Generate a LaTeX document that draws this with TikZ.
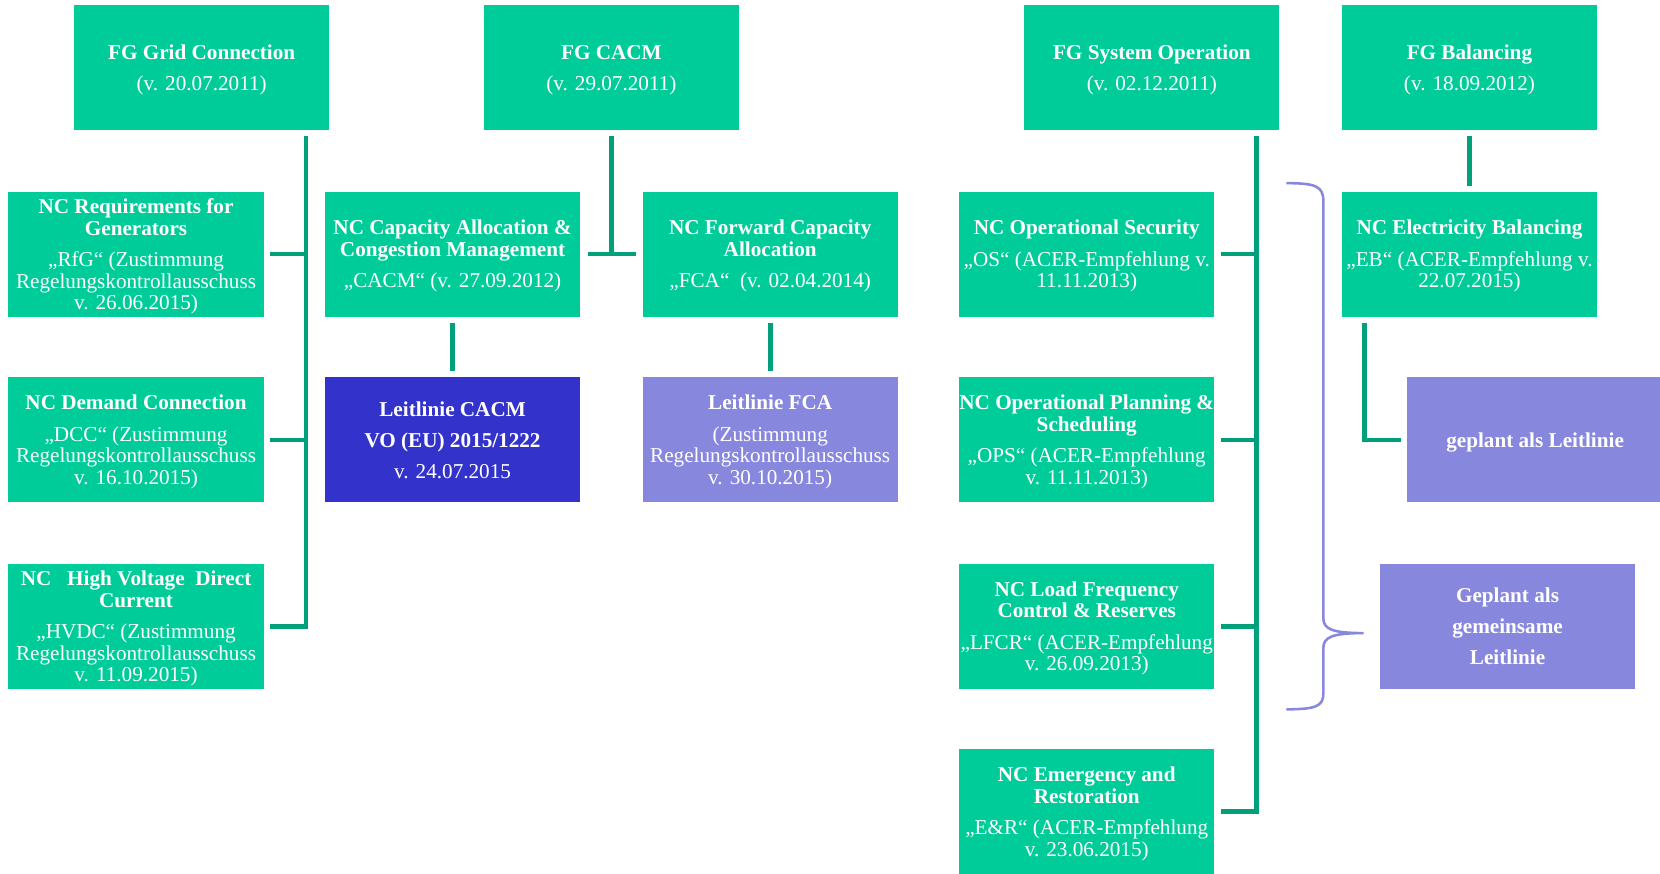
\documentclass[tikz,border=0pt]{standalone}
\usepackage{fontspec}
\setmainfont{Liberation Serif}
\definecolor{boxgreen}{HTML}{00CC99}
\definecolor{linegreen}{HTML}{00A07A}
\definecolor{darkblue}{HTML}{3333CC}
\definecolor{lilac}{HTML}{8787DE}
\tikzset{
  box/.style={fill=boxgreen, text=white, minimum width=120.5pt, minimum height=59pt,
    inner sep=0pt, text depth=0pt, align=center, font=\fontsize{10}{10.25}\selectfont},
  bluebox/.style={box, fill=darkblue},
  lilacbox/.style={box, fill=lilac},
  conn/.style={draw=linegreen, line width=2.2pt},
  bracepath/.style={draw=lilac, line width=1.2pt},
}
\begin{document}
\begin{tikzpicture}[x=0.5pt,y=-0.5pt]
\useasboundingbox (0,0) rectangle (1568,825);
% top row
\node[box] (gc) at (190.5,64) {\textbf{FG Grid Connection}\\[4.25pt](v. 20.07.2011)};
\node[box] (cacm) at (577.5,64) {\textbf{FG CACM}\\[4.25pt](v. 29.07.2011)};
\node[box] (so) at (1088,64) {\textbf{FG System Operation}\\[4.25pt](v. 02.12.2011)};
\node[box] (bal) at (1388,64) {\textbf{FG Balancing}\\[4.25pt](v. 18.09.2012)};
% second row
\node[box] (rfg) at (128.5,240) {\textbf{NC Requirements for}\\\textbf{Generators}\\[4.5pt]„RfG“ (Zustimmung\\Regelungskontrollausschuss\\v. 26.06.2015)};
\node[box] (ncacm) at (427.5,240) {\textbf{NC Capacity Allocation \&}\\\textbf{Congestion Management}\\[4.5pt]„CACM“ (v. 27.09.2012)};
\node[box] (fca) at (727.5,240) {\textbf{NC Forward Capacity}\\\textbf{Allocation}\\[4.5pt]„FCA“\ \ (v. 02.04.2014)};
\node[box] (os) at (1026.5,240) {\textbf{NC Operational Security}\\[4.5pt]„OS“ (ACER-Empfehlung v.\\11.11.2013)};
\node[box] (eb) at (1388,240) {\textbf{NC Electricity Balancing}\\[4.5pt]„EB“ (ACER-Empfehlung v.\\22.07.2015)};
% third row
\node[box] (dcc) at (128.5,415.5) {\textbf{NC Demand Connection}\\[4.5pt]„DCC“ (Zustimmung\\Regelungskontrollausschuss\\v. 16.10.2015)};
\node[bluebox] (lcacm) at (427.5,415.5) {\textbf{Leitlinie CACM}\\[4.5pt]\textbf{VO (EU) 2015/1222}\\[4.5pt]v. 24.07.2015};
\node[lilacbox] (lfca) at (727.5,415.5) {\textbf{Leitlinie FCA}\\[4.5pt](Zustimmung\\Regelungskontrollausschuss\\v. 30.10.2015)};
\node[box] (ops) at (1026.5,415.5) {\textbf{NC Operational Planning \&}\\\textbf{Scheduling}\\[4.5pt]„OPS“ (ACER-Empfehlung\\v. 11.11.2013)};
\node[lilacbox, minimum width=121pt] (gpl) at (1450,415.5) {\textbf{geplant als Leitlinie}};
% fourth row
\node[box] (hvdc) at (128.5,591.5) {\textbf{NC\ \ \ High Voltage\ \ Direct}\\\textbf{Current}\\[4.5pt]„HVDC“ (Zustimmung\\Regelungskontrollausschuss\\v. 11.09.2015)};
\node[box] (lfcr) at (1026.5,591.5) {\textbf{NC Load Frequency}\\\textbf{Control \& Reserves}\\[4.5pt]„LFCR“ (ACER-Empfehlung\\v. 26.09.2013)};
\node[lilacbox] (gem) at (1424,591.5) {\textbf{Geplant als}\\[4.5pt]\textbf{gemeinsame}\\[4.5pt]\textbf{Leitlinie}};
% fifth row
\node[box] (er) at (1026.5,766.5) {\textbf{NC Emergency and}\\\textbf{Restoration}\\[4.5pt]„E\&R“ (ACER-Empfehlung\\v. 23.06.2015)};
% Grid connection bus
\coordinate (gtop) at (289,128);
\draw[conn] (gtop) |- ([xshift=3pt]hvdc.east);
\draw[conn] ([xshift=3pt]rfg.east) -- (rfg.east -| gtop);
\draw[conn] ([xshift=3pt]dcc.east) -- (dcc.east -| gtop);
% CACM
\draw[conn] ([yshift=-2.5pt]cacm.south) -- (cacm.south |- ncacm.east);
\draw[conn] ([xshift=3.5pt]ncacm.east) -- ([xshift=-3pt]fca.west);
\draw[conn] ([yshift=-3pt]ncacm.south) -- ([yshift=3pt]lcacm.north);
\draw[conn] ([yshift=-3pt]fca.south) -- ([yshift=3pt]lfca.north);
% System operation bus
\coordinate (stop) at (1187,128);
\draw[conn] (stop) |- ([xshift=3pt]er.east);
\draw[conn] ([xshift=3pt]os.east) -- (os.east -| stop);
\draw[conn] ([xshift=3pt]ops.east) -- (ops.east -| stop);
\draw[conn] ([xshift=3pt]lfcr.east) -- (lfcr.east -| stop);
% Balancing
\draw[conn] ([yshift=-2.5pt]bal.south) -- ([yshift=2.5pt]eb.north);
\draw[conn] ([xshift=11pt,yshift=-3pt]eb.south west) |- ([xshift=-2.5pt]gpl.west);
% brace
\coordinate (btip) at (1288,598);
\draw[bracepath] (1215,173) .. controls (1243,173) and (1250,176) .. (1250,190)
  -- (1250,584) .. controls (1250,594) and (1258,598) .. (btip)
  .. controls (1258,598) and (1250,602) .. (1250,612)
  -- (1250,655) .. controls (1250,667) and (1243,670) .. (1215,670);
\end{tikzpicture}
\end{document}
